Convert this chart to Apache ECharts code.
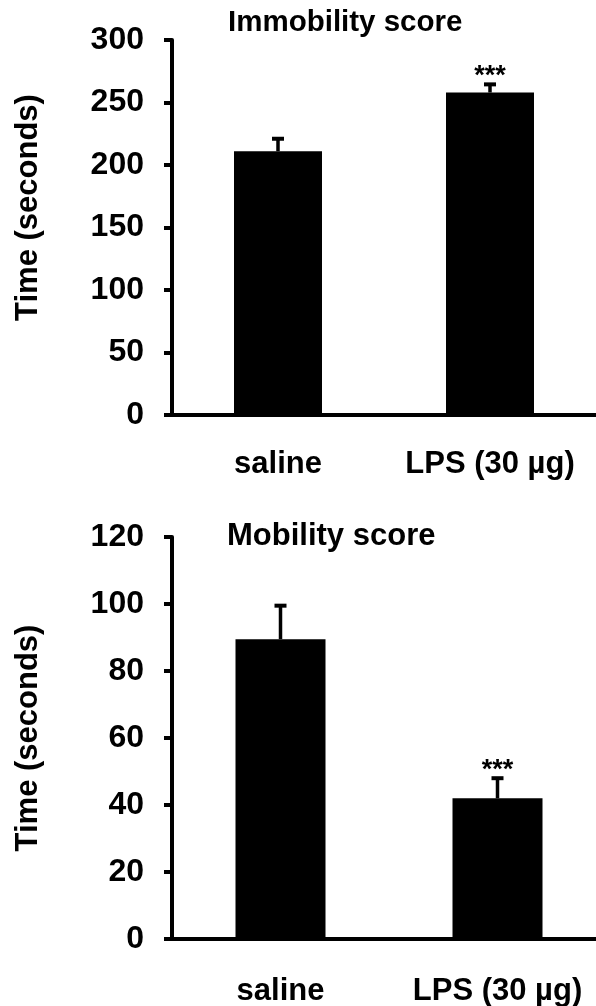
<!DOCTYPE html>
<html>
<head>
<meta charset="utf-8">
<script src="https://cdn.jsdelivr.net/npm/echarts@6/dist/echarts.min.js"></script>
<style>
	html, body { margin: 0; padding: 0; background: #fff; }
	#chart { width: 596px; height: 1006px; }
</style>
</head>
<body>
<div id="chart"></div>
<script>
// data
const categories = ["saline", "LPS (30 µg)"];
const immobilityMean = [211, 258];
const immobilityErr = [10, 6.5];
const mobilityMean = [89.5, 42];
const mobilityErr = [10, 6];
const significance = ["", "***"];

const FONT = "Liberation Sans";
const chart = echarts.init(document.getElementById("chart"));

// error bar (upper half only) + significance stars
function errorBar(params, api) {
	const mean = api.value(1);
	const err = api.value(2);
	const base = api.coord([api.value(0), mean]);
	const top = api.coord([api.value(0), mean + err]);
	const half = 6;
	const children = [
		{type: "line", shape: {x1: base[0], y1: base[1], x2: top[0], y2: top[1]}, style: {stroke: "#000", lineWidth: 3.5}},
		{type: "line", shape: {x1: top[0] - half, y1: top[1], x2: top[0] + half, y2: top[1]}, style: {stroke: "#000", lineWidth: 4}},
	];
	const sig = significance[params.dataIndex];
	if (sig) {
		children.push({
			type: "text",
			style: {
				text: sig, x: top[0], y: top[1] - 8,
				align: "center", verticalAlign: "middle",
				fontSize: 27, fontWeight: "bold", fontFamily: FONT, fill: "#000",
			},
		});
	}
	return {type: "group", children};
}

const xAxisBase = (idx, margin) => ({
	type: "category",
	gridIndex: idx,
	data: categories,
	axisLine: {lineStyle: {color: "#000", width: 4}},
	axisTick: {show: false},
	axisLabel: {interval: 0, color: "#000", fontSize: 31, fontWeight: "bold", fontFamily: FONT, margin: margin},
});

const yAxisBase = (idx, max, interval, namePad) => ({
	type: "value",
	gridIndex: idx,
	min: 0,
	max: max,
	interval: interval,
	name: "Time (seconds)",
	nameLocation: "middle",
	nameGap: 128,
	nameTextStyle: {color: "#000", fontSize: 31, fontWeight: "bold", fontFamily: FONT, padding: namePad},
	axisLine: {show: true, lineStyle: {color: "#000", width: 4}},
	axisTick: {show: true, length: 8, lineStyle: {color: "#000", width: 4}},
	axisLabel: {color: "#000", fontSize: 32, fontWeight: "bold", fontFamily: FONT, margin: 28},
	splitLine: {show: false},
});

const toTriples = (mean, err) => mean.map((m, i) => [i, m, err[i]]);

chart.setOption({
	animation: false,
	backgroundColor: "#fff",
	title: [
		{text: "Immobility score", left: 228, top: 8, padding: 0,
			textStyle: {color: "#000", fontSize: 29.5, fontWeight: "bold", fontFamily: FONT}},
		{text: "Mobility score", left: 227, top: 521, padding: 0,
			textStyle: {color: "#000", fontSize: 31, fontWeight: "bold", fontFamily: FONT}},
	],
	grid: [
		{left: 172, top: 40, width: 424, height: 375, outerBoundsMode: "none"},
		{left: 172, top: 537, width: 434, height: 402, outerBoundsMode: "none"},
	],
	xAxis: [xAxisBase(0, 34), xAxisBase(1, 37)],
	yAxis: [yAxisBase(0, 300, 50, [0, 0, 0, 40]), yAxisBase(1, 120, 20, 0)],
	series: [
		{type: "bar", xAxisIndex: 0, yAxisIndex: 0, data: immobilityMean, barWidth: 88, itemStyle: {color: "#000"}},
		{type: "custom", xAxisIndex: 0, yAxisIndex: 0, renderItem: errorBar, data: toTriples(immobilityMean, immobilityErr), z: 3},
		{type: "bar", xAxisIndex: 1, yAxisIndex: 1, data: mobilityMean, barWidth: 90, itemStyle: {color: "#000"}},
		{type: "custom", xAxisIndex: 1, yAxisIndex: 1, renderItem: errorBar, data: toTriples(mobilityMean, mobilityErr), z: 3},
	],
});
</script>
</body>
</html>
